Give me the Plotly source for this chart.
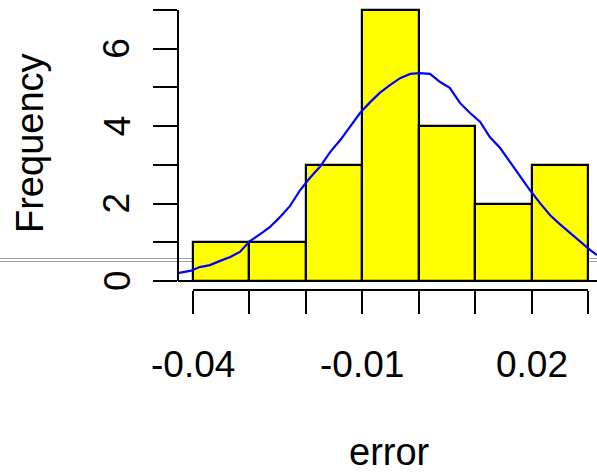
import plotly.graph_objects as go

# ---- data ----
bin_edges = [-0.04, -0.03, -0.02, -0.01, 0.0, 0.01, 0.02, 0.03]
counts = [1, 1, 3, 7, 4, 2, 3]
curve_x = [-0.0425, -0.0405, -0.0388, -0.0370, -0.0352, -0.0334, -0.0317, -0.0299,
           -0.0281, -0.0264, -0.0246, -0.0228, -0.0210, -0.0193, -0.0175, -0.0157,
           -0.0139, -0.0122, -0.0104, -0.0086, -0.0069, -0.0051, -0.0033, -0.0015,
           0.0002, 0.0020, 0.0038, 0.0055, 0.0073, 0.0091, 0.0109, 0.0126, 0.0144,
           0.0162, 0.0180, 0.0197, 0.0215, 0.0233, 0.0250, 0.0268, 0.0286, 0.0304, 0.0316]
curve_y = [0.21, 0.26, 0.36, 0.41, 0.52, 0.62, 0.75, 1.03,
           1.21, 1.39, 1.65, 1.94, 2.35, 2.66, 2.95, 3.33,
           3.64, 3.98, 4.34, 4.62, 4.86, 5.06, 5.24, 5.35,
           5.37, 5.35, 5.14, 4.99, 4.60, 4.34, 4.11, 3.72, 3.44,
           3.07, 2.69, 2.35, 2.01, 1.70, 1.47, 1.24, 1.03, 0.80, 0.67]
x_tick_vals = [-0.04, -0.03, -0.02, -0.01, 0.0, 0.01, 0.02, 0.03]
x_tick_labels = ["-0.04", "-0.01", "0.02"]
x_label_vals = [-0.04, -0.01, 0.02]
y_tick_vals = [0, 1, 2, 3, 4, 5, 6, 7]
y_label_vals = [0, 2, 4, 6]
x_title = "error"
y_title = "Frequency"

# ---- layout geometry (pixels) ----
W, H = 597, 474
PX_X0, PX_X1 = 193, 588          # pixel of -0.04 and 0.03
PX_Y0, PX_Y7 = 281, 10           # pixel of 0 and 7
sx = (PX_X1 - PX_X0) / (bin_edges[-1] - bin_edges[0])
sy = (PX_Y0 - PX_Y7) / 7.0

def xv(px):
    return bin_edges[0] + (px - PX_X0) / sx

def yv(py):
    return (PX_Y0 - py) / sy

def py2paper(py):
    return 1 - py / H

FONT = "Liberation Sans, Arial, sans-serif"

centers = [(a + b) / 2 for a, b in zip(bin_edges[:-1], bin_edges[1:])]
widths = [b - a for a, b in zip(bin_edges[:-1], bin_edges[1:])]

fig = go.Figure()
fig.add_trace(go.Bar(x=centers, y=counts, width=widths,
                     marker=dict(color="#FFFF00", line=dict(color="black", width=2.2)),
                     hoverinfo="skip", xaxis="x", yaxis="y"))
fig.add_trace(go.Scatter(x=curve_x, y=curve_y, mode="lines",
                         line=dict(color="#0000FF", width=2.2), hoverinfo="skip",
                         xaxis="x", yaxis="y"))
# invisible trace to activate the axis subplot
fig.add_trace(go.Scatter(x=[bin_edges[0]], y=[0], mode="markers",
                         marker=dict(opacity=0), hoverinfo="skip",
                         xaxis="x2", yaxis="y2"))

shapes = []
for gy in (258.5, 261.5):
    shapes.append(dict(type="line", xref="paper", yref="paper", x0=0, x1=1,
                       y0=py2paper(gy), y1=py2paper(gy),
                       line=dict(color="#A0A0A0", width=1), layer="below"))
shapes.append(dict(type="line", xref="paper", yref="y", x0=178 / W, x1=1,
                   y0=0, y1=0, line=dict(color="black", width=2), layer="above"))

annotations = []
for v, t in zip(x_label_vals, x_tick_labels):
    annotations.append(dict(x=v, xref="x2", y=py2paper(364), yref="paper", text=t,
                            showarrow=False, xanchor="center", yanchor="middle",
                            font=dict(family=FONT, size=37, color="black")))
for v in y_label_vals:
    annotations.append(dict(x=117 / W, xref="paper", y=v, yref="y2", text=str(v),
                            showarrow=False, xanchor="center", yanchor="middle",
                            textangle=-90,
                            font=dict(family=FONT, size=37, color="black")))
annotations.append(dict(x=389 / W, xref="paper", y=py2paper(452), yref="paper",
                        text=x_title, showarrow=False, xanchor="center", yanchor="middle",
                        font=dict(family=FONT, size=38, color="black")))
annotations.append(dict(x=30 / W, xref="paper", y=py2paper(143), yref="paper",
                        text=y_title, showarrow=False, xanchor="center", yanchor="middle",
                        textangle=-90,
                        font=dict(family=FONT, size=38, color="black")))

fig.update_layout(
    width=W, height=H,
    margin=dict(l=0, r=0, t=0, b=0),
    paper_bgcolor="white", plot_bgcolor="rgba(0,0,0,0)",
    showlegend=False, bargap=0,
    xaxis=dict(domain=[178 / W, 1], range=[xv(178), xv(W)], visible=False),
    yaxis=dict(domain=[py2paper(300), 1], range=[yv(300), yv(0)], visible=False),
    xaxis2=dict(domain=[PX_X0 / W, PX_X1 / W], range=[bin_edges[0], bin_edges[-1]],
                anchor="free", position=py2paper(290), showline=True, linewidth=2,
                linecolor="black", ticks="outside", ticklen=23, tickwidth=2,
                tickcolor="black", tickvals=x_tick_vals, showticklabels=False,
                showgrid=False, zeroline=False),
    yaxis2=dict(domain=[py2paper(PX_Y0), py2paper(PX_Y7)], range=[0, 7],
                anchor="free", position=178 / W, showline=True, linewidth=2,
                linecolor="black", ticks="outside", ticklen=24, tickwidth=2,
                tickcolor="black", tickvals=y_tick_vals, showticklabels=False,
                showgrid=False, zeroline=False),
    shapes=shapes, annotations=annotations,
)

fig.write_html("out.html")
